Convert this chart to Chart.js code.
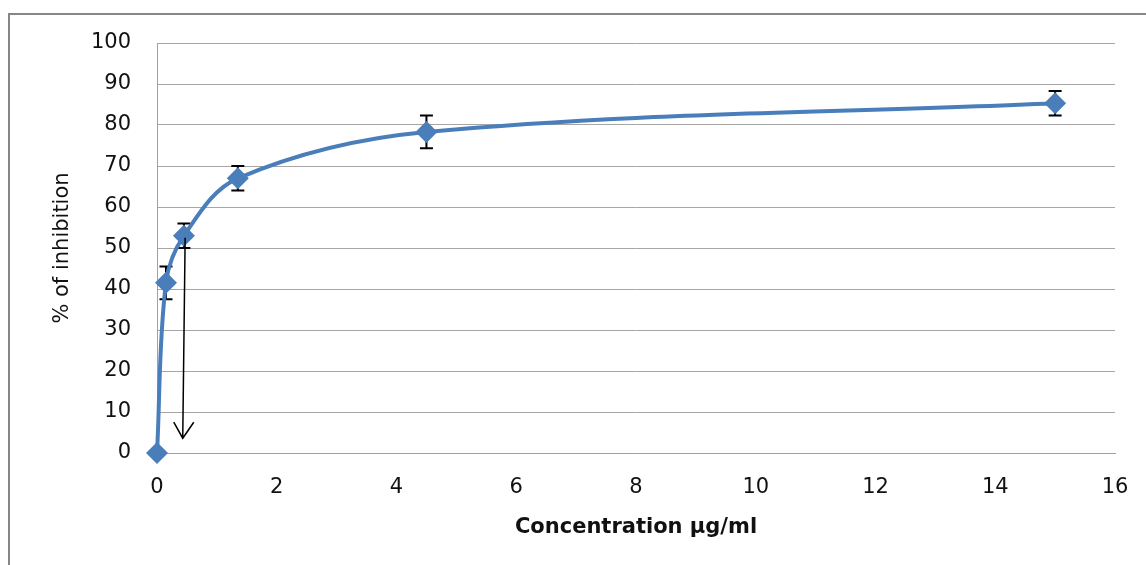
<!DOCTYPE html>
<html>
<head>
<meta charset="utf-8">
<script src="https://cdn.jsdelivr.net/npm/chart.js@4/dist/chart.umd.min.js"></script>
<style>
  html, body { margin: 0; padding: 0; background: #fff; }
  #wrap { position: relative; width: 1146px; height: 565px; }
</style>
</head>
<body>
<div id="wrap"><canvas id="c" width="1146" height="565"></canvas></div>
<script>
// ---- Data ----
const concentrations = [0, 0.15, 0.45, 1.35, 4.5, 15];
const inhibition = [0, 41.5, 53, 67, 78.3, 85.3];
const errorValues = [0, 4, 3, 3, 4, 3];
const xTicks = [0, 2, 4, 6, 8, 10, 12, 14, 16];
const yTicks = [0, 10, 20, 30, 40, 50, 60, 70, 80, 90, 100];
const xAxisTitle = 'Concentration µg/ml';
const yAxisTitle = '% of inhibition';
// IC50 arrow (data units)
const arrowFrom = { x: 0.47, y: 52.5 };
const arrowTo = { x: 0.43, y: 3.6 };

const points = concentrations.map((x, i) => ({ x: x, y: inhibition[i] }));

const frame = {
  id: 'frame',
  beforeDraw(chart) {
    const ctx = chart.ctx;
    ctx.save();
    ctx.fillStyle = '#fff';
    ctx.fillRect(0, 0, chart.width, chart.height);
    ctx.strokeStyle = '#868686';
    ctx.lineWidth = 2;
    ctx.strokeRect(9, 14, 1300, 700);
    ctx.restore();
  }
};

const errorBars = {
  id: 'errorBars',
  beforeDatasetsDraw(chart) {
    const ctx = chart.ctx;
    const xs = chart.scales.x, ys = chart.scales.y;
    ctx.save();
    ctx.strokeStyle = '#000';
    ctx.lineWidth = 2;
    concentrations.forEach((c, i) => {
      const e = errorValues[i];
      if (!e) return;
      const px = xs.getPixelForValue(c);
      const top = ys.getPixelForValue(inhibition[i] + e);
      const bot = ys.getPixelForValue(inhibition[i] - e);
      ctx.beginPath();
      ctx.moveTo(px, top); ctx.lineTo(px, bot);
      ctx.moveTo(px - 6.5, top); ctx.lineTo(px + 6.5, top);
      ctx.moveTo(px - 6.5, bot); ctx.lineTo(px + 6.5, bot);
      ctx.stroke();
    });
    ctx.restore();
  }
};

const arrow = {
  id: 'arrow',
  afterDatasetsDraw(chart) {
    const ctx = chart.ctx;
    const xs = chart.scales.x, ys = chart.scales.y;
    const x1 = xs.getPixelForValue(arrowFrom.x), y1 = ys.getPixelForValue(arrowFrom.y);
    const x2 = xs.getPixelForValue(arrowTo.x), y2 = ys.getPixelForValue(arrowTo.y);
    ctx.save();
    ctx.strokeStyle = '#000';
    ctx.lineWidth = 1.5;
    ctx.beginPath();
    ctx.moveTo(x1, y1); ctx.lineTo(x2, y2);
    ctx.moveTo(x2 - 9, y2 - 16); ctx.lineTo(x2, y2); ctx.lineTo(x2 + 11, y2 - 16);
    ctx.stroke();
    ctx.restore();
  }
};

new Chart(document.getElementById('c'), {
  type: 'scatter',
  data: {
    datasets: [{
      data: points,
      showLine: true,
      clip: false,
      borderColor: '#4A7EBB',
      backgroundColor: '#4A7EBB',
      borderWidth: 4,
      tension: 0.35,
      cubicInterpolationMode: 'default',
      pointStyle: 'rectRot',
      pointRadius: 11,
      pointBorderWidth: 0,
      pointBackgroundColor: '#4A7EBB'
    }]
  },
  options: {
    responsive: false,
    animation: false,
    devicePixelRatio: 1,
    layout: { padding: { left: 40, top: 43, right: 31, bottom: 0 } },
    plugins: { legend: { display: false }, tooltip: { enabled: false } },
    scales: {
      x: {
        type: 'linear',
        min: 0, max: 16,
        afterFit(s) { s.height = 112; s.paddingLeft = 0; s.paddingRight = 0; },
        afterBuildTicks(s) { s.ticks = xTicks.map(v => ({ value: v })); },
        grid: { display: false, drawTicks: false },
        border: { display: true, color: '#a0a0a0', width: 1 },
        ticks: { padding: 22, color: '#111', font: { family: 'DejaVu Sans', size: 21 } },
        title: {
          display: true, text: xAxisTitle, color: '#111',
          font: { family: 'DejaVu Sans', size: 21, weight: 'bold' },
          padding: { top: 0, bottom: 25 }
        }
      },
      y: {
        type: 'linear',
        min: 0, max: 100,
        afterFit(s) { s.width = 117; s.paddingTop = 0; s.paddingBottom = 0; },
        afterBuildTicks(s) { s.ticks = yTicks.map(v => ({ value: v })); },
        grid: { display: true, color: '#a6a6a6', lineWidth: 1, drawTicks: false },
        border: { display: true, color: '#a0a0a0', width: 1 },
        ticks: { padding: 26, color: '#111', font: { family: 'DejaVu Sans', size: 21 } },
        title: {
          display: true, text: yAxisTitle, color: '#111',
          font: { family: 'DejaVu Sans', size: 21 },
          padding: { top: 10, bottom: 0 }
        }
      }
    }
  },
  plugins: [frame, errorBars, arrow]
});
</script>
</body>
</html>
